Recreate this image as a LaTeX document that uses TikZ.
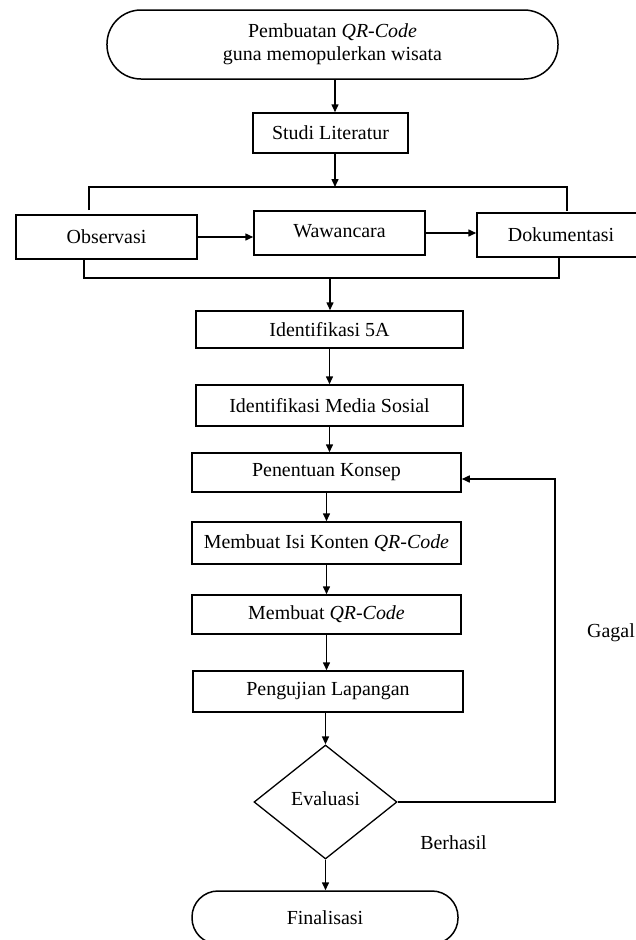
\documentclass[tikz,border=0pt]{standalone}
\usepackage{fontspec}
\setmainfont{Liberation Serif}
\usetikzlibrary{arrows.meta,shapes.geometric,calc}
\begin{document}
\begin{tikzpicture}[x=1bp,y=-1bp,
  every node/.style={font=\fontsize{20}{23}\selectfont},
  box/.style={draw, line width=1.5bp, rectangle, inner sep=0pt, align=center},
  term/.style={box, rounded corners=#1},
  decision/.style={draw, diamond, line width=1.3bp, inner sep=0pt, minimum width=143bp, minimum height=114bp},
  line/.style={line width=1.5bp},
  arr/.style={line, -{Triangle[length=8bp,width=7bp]}},
  lbl/.style={inner sep=0pt}]
\useasboundingbox[fill=white] (0,0) rectangle (636,940);

% nodes
\node[term=34bp, minimum width=451bp, minimum height=69bp] (start) at (332.5,44.5)
  {Pembuatan \textit{QR-Code}\\guna memopulerkan wisata};
\node[box, minimum width=155bp, minimum height=40bp] (studi) at (330.5,133) {Studi Literatur};
\node[box, minimum width=181bp, minimum height=44bp] (obs) at (106.5,237) {Observasi};
\node[box, minimum width=171bp, minimum height=44bp] (waw) at (339.5,233) {\raisebox{5bp}{Wawancara}};
\node[box, minimum width=168bp, minimum height=44bp] (dok) at (561,235) {Dokumentasi};
\node[box, minimum width=267bp, minimum height=37bp] (ident) at (329.5,329.5) {Identifikasi 5A};
\node[box, minimum width=267bp, minimum height=41bp] (medsos) at (329.5,405.5) {Identifikasi Media Sosial};
\node[box, minimum width=269bp, minimum height=39bp] (konsep) at (326.5,472.5) {Penentuan Konsep};
\node[box, minimum width=269bp, minimum height=42bp] (isi) at (326.5,543) {Membuat Isi Konten \textit{QR-Code}};
\node[box, minimum width=269bp, minimum height=39bp] (qr) at (326.5,614.5) {Membuat \textit{QR-Code}};
\node[box, minimum width=270bp, minimum height=41bp] (uji) at (328,691.5) {Pengujian Lapangan};
\node[decision] (eval) at (325.5,802) {\raisebox{6bp}{Evaluasi}};
\node[term=26bp, minimum width=266bp, minimum height=53bp] (final) at (325,917.5) {Finalisasi};
\node[lbl, anchor=east] (gagal) at (635,633) {Gagal};
\node[lbl] (berhasil) at (453.5,843) {Berhasil};

% bracket coordinates
\coordinate (tin) at (335,187);
\coordinate (tlend) at (89,210);
\coordinate (tr) at (567,187);
\coordinate (trend) at (567,211);
\coordinate (bl) at (84,278);
\coordinate (bout) at (330,278);
\coordinate (br) at (559,278);
\coordinate (fb) at (555,479);

% connectors
\draw[arr] (start.south -| tin) -- (studi.north -| tin);
\draw[arr] (studi.south -| tin) -- (tin);
\draw[line] (tlend) |- (tr) -- (trend);
\draw[arr] (obs.east) -- (obs.east -| waw.west);
\draw[arr] (waw.east) -- (waw.east -| dok.west);
\draw[line] (obs.south -| bl) -- (bl) -- (br) -- (dok.south -| br);
\draw[arr] (bout) -- (ident.north -| bout);
\draw[arr] (ident.south) -- (ident.south |- medsos.north);
\draw[arr] (medsos.south) -- (medsos.south |- konsep.north);
\draw[arr] (konsep.south) -- (konsep.south |- isi.north);
\draw[arr] (isi.south) -- (isi.south |- qr.north);
\draw[arr] (qr.south) -- (qr.south |- uji.north);
\draw[arr] (uji.south -| eval.north) -- (eval.north);
\draw[arr] (eval.south) -- (eval.south |- final.north);
\draw[arr] (eval.east) -| (fb) -- (fb -| konsep.east);
\end{tikzpicture}
\end{document}
